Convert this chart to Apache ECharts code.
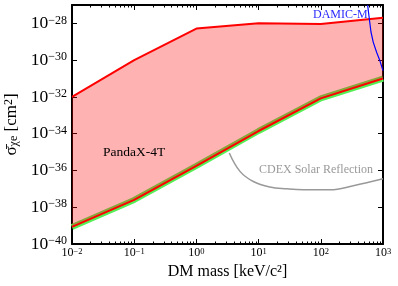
<!DOCTYPE html>
<html>
<head>
<meta charset="utf-8">
<script src="https://cdn.jsdelivr.net/npm/echarts@6/dist/echarts.min.js"></script>
<style>
html,body{margin:0;padding:0;background:#fff;}
#chart{width:398px;height:286px;}
</style>
</head>
<body>
<div id="chart"></div>
<script>
// ---- data ----
const massPoints = [0.01, 0.1, 1, 10, 100, 1000];                 // keV/c^2
const pandaxUpper = [1e-32, 1e-30, 5.2e-29, 1.02e-28, 9.3e-29, 2.0e-28];
const pandaxLower = [8.5e-40, 2.5e-38, 1.8e-36, 1.4e-34, 8.3e-33, 1.0e-31];

const cdexMass  = [3.38, 5.02, 8.22, 15.2, 28.2, 52.4, 141, 333, 1000];
const cdexSigma = [8.9e-36, 8.9e-37, 2.5e-37, 1.26e-37, 1.0e-37, 8.9e-38, 8.9e-38, 1.48e-37, 3.5e-37];

const damicMass  = [566, 603, 641, 698, 792, 895, 1000];
const damicSigma = [1e-27, 1.74e-28, 3.4e-29, 9.3e-30, 2.6e-30, 8.9e-31, 2.7e-31];

// tick labels (powers of ten)
const massTickExps  = [-2, -1, 0, 1, 2, 3];
const sigmaTickExps = [-40, -38, -36, -34, -32, -30, -28];
const massMinorExps = [];
for (let k = -2; k <= 2; k++) for (let m = 2; m <= 9; m++) massMinorExps.push(k + Math.log10(m));

const labelPandax = 'PandaX-4T';
const labelCdex = 'CDEX Solar Reflection';
const labelDamic = 'DAMIC-M';

// ---- build ----
const pairs = (xs, ys) => xs.map((x, i) => [x, ys[i]]);
const FONT = 'Liberation Serif';
const supStr = e => (e < 0 ? '\u2212' : '') + Math.abs(Math.round(e));

const chart = echarts.init(document.getElementById('chart'), null, {renderer: 'canvas'});

const hiddenLogX = {type: 'log', logBase: 10, min: 0.01, max: 1000, show: false};
const hiddenLogY = {type: 'log', logBase: 10, min: 1e-40, max: 1e-27, show: false};
const expX = {type: 'value', min: -2, max: 3, splitLine: {show: false}, minorTick: {show: false}};
const expY = {type: 'value', min: -40, max: -27, splitLine: {show: false}, minorTick: {show: false}};
const frameLine = {show: true, onZero: false, lineStyle: {color: '#000', width: 2}};
const tick = (len, vals) => ({show: true, inside: true, length: len, customValues: vals, lineStyle: {color: '#000', width: 1}});

const option = {
  animation: false,
  backgroundColor: '#fff',
  grid: {left: 72, top: 5, width: 311, height: 239, containLabel: false, outerBoundsMode: 'none'},
  xAxis: [
    hiddenLogX,
    Object.assign({}, expX, {
      position: 'bottom', axisLine: frameLine, axisTick: tick(5, massTickExps),
      axisLabel: {show: true, customValues: massTickExps, margin: 3,
        formatter: v => '{b|10}{s|' + supStr(v) + '}',
        rich: {b: {fontFamily: FONT, fontSize: 12, color: '#000'}, s: {fontFamily: FONT, fontSize: 8.5, color: '#000', verticalAlign: 'top'}}},
      name: 'DM mass [keV/c\u00B2]', nameLocation: 'middle', nameGap: 13,
      nameTextStyle: {fontFamily: FONT, fontSize: 16, color: '#000', verticalAlign: 'top'}
    }),
    Object.assign({}, expX, {position: 'top', axisLine: frameLine, axisTick: tick(5, massTickExps), axisLabel: {show: false}}),
    Object.assign({}, expX, {position: 'bottom', axisLine: {show: false}, axisTick: tick(2.5, massMinorExps), axisLabel: {show: false}}),
    Object.assign({}, expX, {position: 'top', axisLine: {show: false}, axisTick: tick(2.5, massMinorExps), axisLabel: {show: false}})
  ],
  yAxis: [
    hiddenLogY,
    Object.assign({}, expY, {
      position: 'left', axisLine: frameLine, axisTick: tick(5, sigmaTickExps),
      axisLabel: {show: true, customValues: sigmaTickExps, margin: 5,
        formatter: v => '{b|10}{s|' + supStr(v) + '}',
        rich: {b: {fontFamily: FONT, fontSize: 17.5, color: '#000'}, s: {fontFamily: FONT, fontSize: 12, color: '#000', verticalAlign: 'top'}}},
      name: '{a|\u03C3\u0304}{sub|\u03C7e} [cm{sup|2}]', nameLocation: 'middle', nameGap: 52, nameRotate: 90,
      nameTextStyle: {fontFamily: FONT, fontSize: 17, color: '#000',
        rich: {a: {fontFamily: FONT, fontSize: 17, color: '#000'},
               sub: {fontFamily: FONT, fontSize: 12, color: '#000', verticalAlign: 'bottom'},
               sup: {fontFamily: FONT, fontSize: 12, color: '#000', verticalAlign: 'top'}}}
    }),
    Object.assign({}, expY, {position: 'right', axisLine: frameLine, axisTick: tick(5, sigmaTickExps), axisLabel: {show: false}})
  ],
  series: [
    {
      type: 'line', name: 'band', xAxisIndex: 0, yAxisIndex: 0, z: 1,
      data: pairs(massPoints, pandaxLower), symbol: 'none',
      lineStyle: {color: '#55ee55', width: 6}, clip: true
    },
    {
      type: 'custom', name: 'fill', xAxisIndex: 0, yAxisIndex: 0, z: 2,
      data: [0], clip: true,
      renderItem: (params, api) => {
        const up = massPoints.map((x, i) => api.coord([x, pandaxUpper[i]]));
        const lo = massPoints.map((x, i) => api.coord([x, pandaxLower[i]])).reverse();
        return {type: 'polygon', shape: {points: up.concat(lo)}, style: {fill: 'rgba(255,0,0,0.3)', stroke: null}};
      }
    },
    {
      type: 'line', name: 'upper', xAxisIndex: 0, yAxisIndex: 0, z: 3,
      data: pairs(massPoints, pandaxUpper), symbol: 'none',
      lineStyle: {color: '#ff0000', width: 2}, clip: true
    },
    {
      type: 'line', name: 'lower', xAxisIndex: 0, yAxisIndex: 0, z: 3,
      data: pairs(massPoints, pandaxLower), symbol: 'none',
      lineStyle: {color: '#ff0000', width: 2}, clip: true
    },
    {
      type: 'line', name: 'cdex', xAxisIndex: 0, yAxisIndex: 0, z: 3,
      data: pairs(cdexMass, cdexSigma), symbol: 'none', smooth: 0.4,
      lineStyle: {color: '#999999', width: 1.5}, clip: true
    },
    {
      type: 'line', name: 'damic', xAxisIndex: 0, yAxisIndex: 0, z: 4,
      data: pairs(damicMass, damicSigma), symbol: 'none',
      lineStyle: {color: '#0000ff', width: 1.2}, clip: true
    }
  ],
  graphic: [
    {type: 'text', x: 103, y: 152, z: 10, style: {text: labelPandax, font: '13.5px "Liberation Serif"', fill: '#000', verticalAlign: 'middle'}},
    {type: 'text', x: 259, y: 170, z: 10, style: {text: labelCdex, font: '12px "Liberation Serif"', fill: '#999999', verticalAlign: 'middle'}},
    {type: 'text', x: 313, y: 15, z: 10, style: {text: labelDamic, font: '12px "Liberation Serif"', fill: '#2a2aff', verticalAlign: 'middle'}}
  ]
};
chart.setOption(option);
</script>
</body>
</html>
